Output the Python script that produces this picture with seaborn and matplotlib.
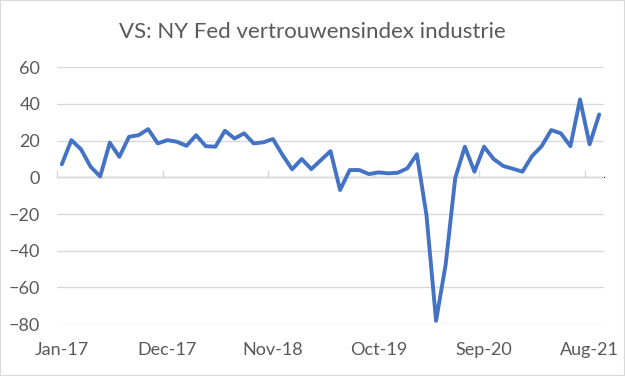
import numpy as np
import pandas as pd
import seaborn as sns
import matplotlib.pyplot as plt

# monthly index, Jan-17 .. Sep-21
months = pd.date_range("2017-01-01", "2021-09-01", freq="MS")
values = [7.1, 20.3, 15.3, 5.8, 0.5, 18.9, 11.2, 22.1, 23.0, 26.3,
          18.5, 20.3, 19.4, 17.2, 23.0, 17.0, 16.7, 25.4, 21.2, 24.0,
          18.5, 19.1, 20.9, 12.2, 4.4, 10.0, 4.5, 9.4, 14.3, -6.9,
          4.0, 4.0, 1.8, 2.7, 2.2, 2.5, 4.9, 12.6, -20.5, -78.2,
          -47.5, -0.3, 16.7, 3.1, 16.7, 10.0, 6.2, 4.7, 3.1, 11.6,
          17.0, 25.8, 24.0, 17.0, 42.5, 18.0, 34.3]
tick_every = 11

df = pd.DataFrame({"pos": np.arange(len(months)), "value": values,
                   "label": months.strftime("%b-%y")})

sns.set_style("white")
plt.rcParams["font.family"] = ["Lato", "DejaVu Sans"]

fig = plt.figure(figsize=(6.25, 3.76), dpi=100)
ax = fig.add_axes([0.0912, 0.138, 0.8752, 0.683])

sns.lineplot(data=df, x="pos", y="value", ax=ax, color="#4472C4", linewidth=2.8)

ax.set_xlim(-0.5, len(months) - 0.5)
ax.set_ylim(-80, 60)
ax.set_yticks(np.arange(-80, 61, 20))
ax.grid(axis="y", color="#d9d9d9", linewidth=1)
ax.set_axisbelow(True)
for s in ax.spines.values():
    s.set_visible(False)

label_pos = df["pos"][::tick_every]
ax.set_xticks(label_pos)
ax.set_xticklabels(df["label"][::tick_every])
ax.tick_params(axis="both", length=0, labelsize=13, labelcolor="#595959")
ax.tick_params(axis="y", pad=12)
ax.tick_params(axis="x", pad=13)
ax.set_xlabel("")
ax.set_ylabel("")

# category axis crossing at zero, tick marks between categories
sec = ax.secondary_xaxis(80 / 140)
sec.set_xticks(label_pos - 0.5)
sec.set_xticklabels([])
sec.tick_params(axis="x", length=5, width=1, color="#d9d9d9", direction="out")
sec.spines["bottom"].set_color("#d9d9d9")
sec.spines["bottom"].set_linewidth(1)

fig.text(0.5, 0.915, "VS: NY Fed vertrouwensindex industrie", ha="center",
         va="center", fontsize=16, color="#595959")

fig.patches.append(plt.Rectangle((0, 0), 1, 1, transform=fig.transFigure,
                                 fill=False, edgecolor="#d9d9d9", linewidth=1.5))

fig.savefig("out.png", dpi=100)
